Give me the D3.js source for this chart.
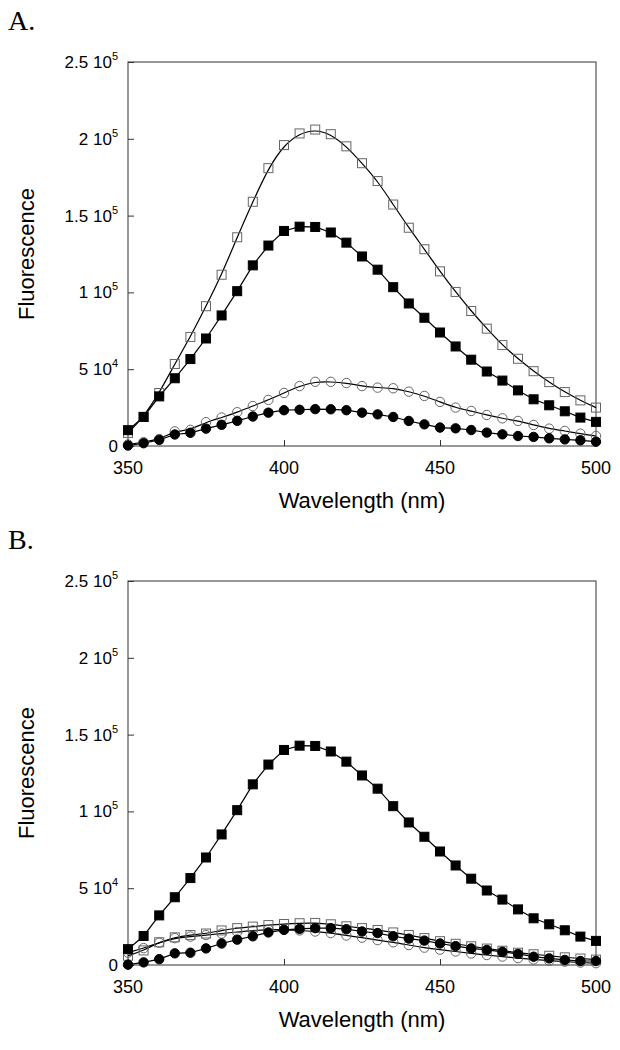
<!DOCTYPE html>
<html><head><meta charset="utf-8">
<script src="https://cdn.jsdelivr.net/npm/d3@7"></script>
<style>body{margin:0;background:#fff}svg{display:block}</style>
</head><body>
<div id="chart"></div>
<script>
// ---------------- data ----------------
const wavelengths = d3.range(350, 501, 5); // 350..500 nm every 5 nm (31 points)

const xTicks = [350, 400, 450, 500];
const yTicks = [0, 50000, 100000, 150000, 200000, 250000];
const yTickMantissa = ["0", "5", "1", "1.5", "2", "2.5"];
const yTickExponent = ["", "4", "5", "5", "5", "5"];

// Panel A
const A_openSquares = [8.5e3, 19e3, 34.5e3, 53.4e3, 71e3, 91e3, 111.5e3, 135.9e3, 159e3, 180.9e3, 195.9e3, 203.5e3, 206e3, 203e3, 195.1e3, 184.1e3, 172.5e3, 157.2e3, 142.1e3, 128.1e3, 113.7e3, 100.3e3, 87.9e3, 76.4e3, 65.7e3, 56.8e3, 48.7e3, 41.6e3, 35.1e3, 29.7e3, 25e3];
const A_filledSquares = [10.3e3, 18.9e3, 32.3e3, 44.1e3, 56.6e3, 70e3, 85e3, 100.8e3, 117.6e3, 130.5e3, 140e3, 142.8e3, 142.6e3, 139e3, 132.4e3, 123.4e3, 114.8e3, 103.4e3, 92.8e3, 83.5e3, 73.9e3, 64.8e3, 56.2e3, 48.5e3, 42.6e3, 36.2e3, 30.4e3, 26.5e3, 22.6e3, 18.5e3, 15.7e3];
const A_openCircles = [1e3, 2.5e3, 4.5e3, 9.5e3, 10.5e3, 15.5e3, 18.5e3, 22e3, 26e3, 30e3, 34.5e3, 39e3, 41.8e3, 41.8e3, 41e3, 39e3, 38e3, 37.6e3, 35.4e3, 32.6e3, 28.7e3, 25e3, 22.8e3, 20.2e3, 18e3, 16.3e3, 13.7e3, 11.3e3, 9.8e3, 8e3, 6.5e3];
const A_filledCircles = [0.3e3, 1.8e3, 4e3, 7.5e3, 8.6e3, 11.3e3, 13.8e3, 16.4e3, 19.2e3, 21.7e3, 23.3e3, 23.6e3, 24e3, 23.9e3, 23.3e3, 21.7e3, 20.6e3, 18.9e3, 16.3e3, 14.1e3, 12e3, 11.5e3, 10.4e3, 8.7e3, 7.6e3, 6.5e3, 5.9e3, 5e3, 4.3e3, 3.7e3, 2.8e3];

// Panel B
const B_openSquares = [6e3, 9.5e3, 14.8e3, 18e3, 19.5e3, 20.5e3, 22.5e3, 24e3, 25e3, 26e3, 26.7e3, 27.2e3, 27.4e3, 26.5e3, 25.2e3, 24e3, 22.8e3, 21.2e3, 19.5e3, 17.5e3, 15.5e3, 13.8e3, 12.2e3, 10.7e3, 9.3e3, 8e3, 7e3, 6e3, 5e3, 4.2e3, 3.5e3];
const B_filledSquares = [10.3e3, 18.9e3, 32.3e3, 44.1e3, 56.6e3, 70e3, 85e3, 100.8e3, 117.6e3, 130.5e3, 140e3, 142.8e3, 142.6e3, 139e3, 132.4e3, 123.4e3, 114.8e3, 103.4e3, 92.8e3, 83.5e3, 73.9e3, 64.8e3, 56.2e3, 48.5e3, 42.6e3, 36.2e3, 30.4e3, 26.5e3, 22.6e3, 18.5e3, 15.7e3];
const B_openCircles = [8e3, 11e3, 14.5e3, 17.5e3, 18.5e3, 19.5e3, 20.5e3, 21.5e3, 22.5e3, 23e3, 23e3, 22.5e3, 21.8e3, 20.8e3, 19.2e3, 17.8e3, 16.2e3, 14.8e3, 13e3, 11.3e3, 10e3, 8.8e3, 7.5e3, 6.5e3, 5.5e3, 4.5e3, 3.6e3, 2.8e3, 2.2e3, 1.6e3, 1.2e3];
const B_filledCircles = [0.2e3, 1.7e3, 3.8e3, 7.6e3, 8e3, 10.8e3, 14e3, 16.5e3, 18.7e3, 21.2e3, 22.9e3, 23.5e3, 24e3, 24e3, 23.3e3, 21.8e3, 20.8e3, 18.7e3, 17.2e3, 15.9e3, 14e3, 12.3e3, 10.8e3, 9.8e3, 8.6e3, 7.2e3, 5.4e3, 4.3e3, 3.3e3, 2.6e3, 2.6e3];

const panelLabels = ["A.", "B."];
const xTitle = "Wavelength (nm)";
const yTitle = "Fluorescence";

// ---------------- layout ----------------
const W = 620, H = 1050;
const svg = d3.select("#chart").append("svg").attr("width", W).attr("height", H);
const FONT = "'Liberation Sans', Arial, Helvetica, sans-serif";

const panels = [
  {label: panelLabels[0], top: 62, bottom: 446, labelY: 30,
   series: [
     {v: A_openSquares, shape: "square", filled: false, curve: d3.curveBasis},
     {v: A_openCircles, shape: "circle", filled: false, curve: d3.curveBasis},
     {v: A_filledSquares, shape: "square", filled: true, curve: d3.curveLinear},
     {v: A_filledCircles, shape: "circle", filled: true, curve: d3.curveLinear}
   ]},
  {label: panelLabels[1], top: 581, bottom: 965, labelY: 549,
   series: [
     {v: B_openSquares, shape: "square", filled: false, curve: d3.curveBasis},
     {v: B_openCircles, shape: "circle", filled: false, curve: d3.curveBasis},
     {v: B_filledSquares, shape: "square", filled: true, curve: d3.curveLinear},
     {v: B_filledCircles, shape: "circle", filled: true, curve: d3.curveLinear}
   ]}
];

const left = 128, right = 596;
const x = d3.scaleLinear().domain([350, 500]).range([left, right]);

panels.forEach(p => {
  const y = d3.scaleLinear().domain([0, 250000]).range([p.bottom, p.top]);
  const g = svg.append("g");

  // panel letter
  g.append("text").attr("x", 8).attr("y", p.labelY)
    .attr("font-family", "'Liberation Serif', 'Times New Roman', serif")
    .attr("font-size", 28).text(p.label);

  // frame
  g.append("rect").attr("x", left).attr("y", p.top)
    .attr("width", right - left).attr("height", p.bottom - p.top)
    .attr("fill", "none").attr("stroke", "#333").attr("stroke-width", 1);

  // y axis (ticks inward)
  const yAxis = d3.axisRight(y).tickValues(yTicks).tickSize(6).tickFormat("");
  const ya = g.append("g").attr("transform", `translate(${left},0)`).call(yAxis);
  ya.select(".domain").remove();
  ya.selectAll("line").attr("stroke", "#333");

  // y tick labels with exponent
  yTicks.forEach((t, i) => {
    const txt = g.append("text").attr("x", left - 10).attr("y", y(t) + 6)
      .attr("text-anchor", "end").attr("font-family", FONT).attr("font-size", 17);
    txt.append("tspan").text(yTickMantissa[i] + (yTickExponent[i] ? " 10" : ""));
    if (yTickExponent[i]) {
      txt.append("tspan").attr("dy", -8).attr("font-size", 11).text(yTickExponent[i]);
    }
  });

  // x axis (ticks inward)
  const xAxis = d3.axisTop(x).tickValues(xTicks).tickSize(6).tickFormat("");
  const xa = g.append("g").attr("transform", `translate(0,${p.bottom})`).call(xAxis);
  xa.select(".domain").remove();
  xa.selectAll("line").attr("stroke", "#333");
  xTicks.forEach(t => {
    g.append("text").attr("x", x(t)).attr("y", p.bottom + 28)
      .attr("text-anchor", "middle").attr("font-family", FONT).attr("font-size", 18)
      .text(t);
  });

  // axis titles
  g.append("text").attr("x", (left + right) / 2).attr("y", p.bottom + 62)
    .attr("text-anchor", "middle").attr("font-family", FONT).attr("font-size", 22)
    .text(xTitle);
  g.append("text")
    .attr("transform", `translate(34,${(p.top + p.bottom) / 2}) rotate(-90)`)
    .attr("text-anchor", "middle").attr("font-family", FONT).attr("font-size", 22)
    .text(yTitle);

  // lines
  p.series.forEach(s => {
    const line = d3.line().x((d, i) => x(wavelengths[i])).y(d => y(d)).curve(s.curve);
    g.append("path").datum(s.v).attr("d", line)
      .attr("fill", "none").attr("stroke", "#000").attr("stroke-width", 1.2);
  });

  // markers
  p.series.forEach(s => {
    const mg = g.append("g");
    if (s.shape === "square") {
      const sz = 9;
      mg.selectAll("rect").data(s.v).join("rect")
        .attr("x", (d, i) => x(wavelengths[i]) - sz / 2)
        .attr("y", d => y(d) - sz / 2)
        .attr("width", sz).attr("height", sz)
        .attr("fill", s.filled ? "#000" : "none")
        .attr("stroke", s.filled ? "#000" : "#666").attr("stroke-width", 1);
    } else {
      mg.selectAll("circle").data(s.v).join("circle")
        .attr("cx", (d, i) => x(wavelengths[i]))
        .attr("cy", d => y(d)).attr("r", 4.7)
        .attr("fill", s.filled ? "#000" : "none")
        .attr("stroke", s.filled ? "#000" : "#666").attr("stroke-width", 1);
    }
  });
});
</script>
</body></html>
